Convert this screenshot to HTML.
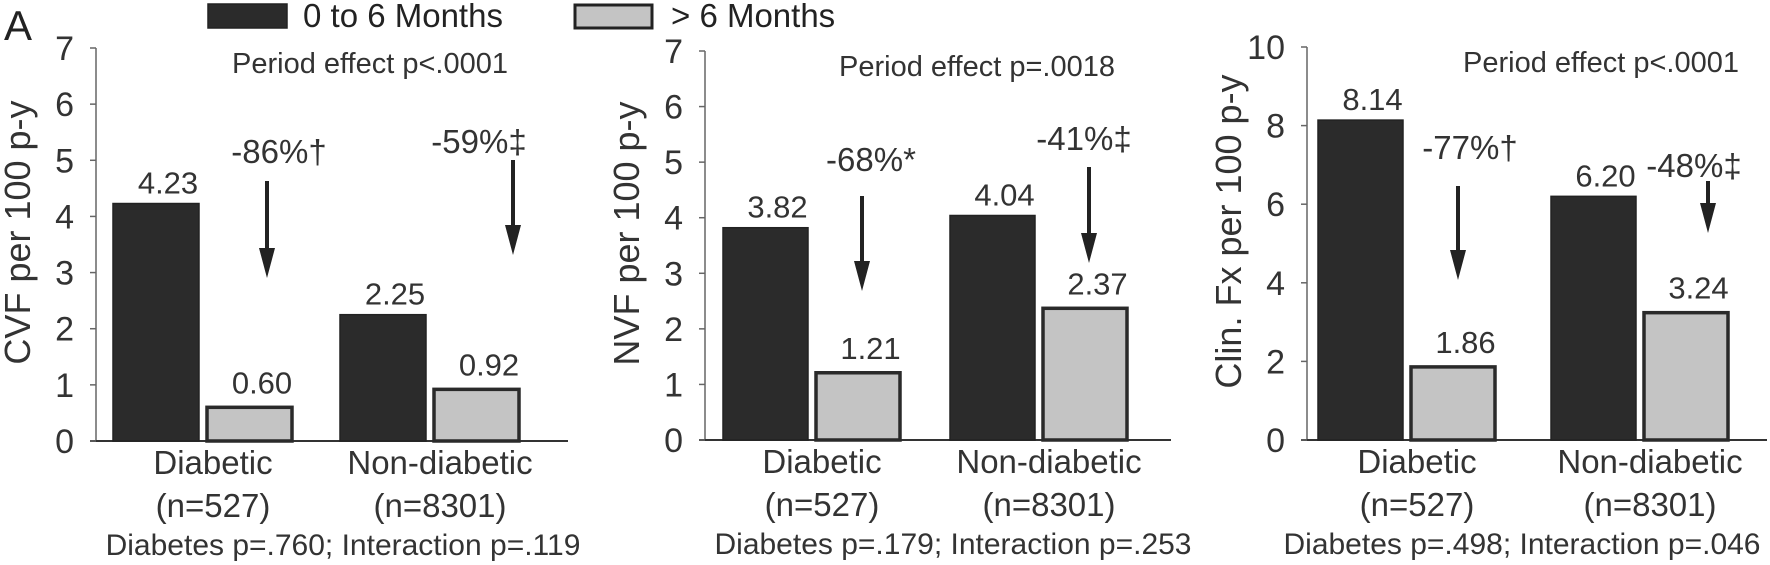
<!DOCTYPE html>
<html><head><meta charset="utf-8"><style>
body{margin:0;background:#fff}
svg{display:block;font-family:"Liberation Sans",Arial,sans-serif;fill:#222}
</style></head><body>
<svg id="chart" width="1770" height="565" viewBox="0 0 1770 565">
<text x="4" y="40" font-size="42">A</text>
<rect x="208" y="4" width="79" height="24" fill="#2b2b2b" stroke="#222" stroke-width="1.5"/>
<text x="303" y="27" font-size="33">0 to 6 Months</text>
<rect x="575" y="5" width="77" height="23" fill="#c4c4c4" stroke="#222" stroke-width="3"/>
<text x="671" y="27" font-size="33">&gt; 6 Months</text>
</svg>
<script>
const categories = ["Diabetic", "Non-diabetic"];
const catN = ["(n=527)", "(n=8301)"];
const cvfEarly = [4.23, 2.25];
const cvfLate = [0.60, 0.92];
const nvfEarly = [3.82, 4.04];
const nvfLate = [1.21, 2.37];
const fxEarly = [8.14, 6.20];
const fxLate = [1.86, 3.24];
const cvfTicks = [0,1,2,3,4,5,6,7];
const nvfTicks = [0,1,2,3,4,5,6,7];
const fxTicks = [0,2,4,6,8,10];
const cvfChange = ["-86%†", "-59%‡"];
const nvfChange = ["-68%*", "-41%‡"];
const fxChange = ["-77%†", "-48%‡"];

const NS = "http://www.w3.org/2000/svg";
const svg = document.getElementById("chart");
function mk(tag, attrs, text){
  const e = document.createElementNS(NS, tag);
  for (const k in attrs) e.setAttribute(k, attrs[k]);
  if (text !== undefined) e.textContent = text;
  svg.appendChild(e);
  return e;
}
function fmt(v){ return v.toFixed(2); }

function panel(cfg){
  const {id, ax, y0, yTop, yMax, axEnd, groups, bw, early, late, ticks, title, period, periodX, change, chg, foot, footX} = cfg;
  const ys = v => y0 - v / yMax * (y0 - yTop);
  let e;
  e = mk("line", {x1: ax, y1: yTop, x2: ax, y2: y0, stroke: "#666", "stroke-width": 1.5});
  
  
  e = mk("line", {x1: ax - 6, y1: y0, x2: axEnd, y2: y0, stroke: "#333", "stroke-width": 2});
  
  
  ticks.forEach(t => {
    const y = ys(t);
    e = mk("line", {x1: ax - 6, y1: y, x2: ax, y2: y, stroke: "#666", "stroke-width": 1.5});
    
    
    e = mk("text", {x: ax - 22, y: y + 12, "font-size": 34, "text-anchor": "end", fill: "#333"}, String(t));
    
    
  });
  const tx = ax - 66, ty = (y0 + yTop) / 2 - 12;
  e = mk("text", {x: tx, y: ty, "font-size": 36, "text-anchor": "middle", fill: "#333", transform: `rotate(-90 ${tx} ${ty})`}, title);
  
  
  e = mk("text", {x: periodX, y: yTop + 25, "font-size": 29, "text-anchor": "middle", fill: "#333"}, period);
  
  
  categories.forEach((c, i) => {
    const gx = groups[i];
    const hE = ys(early[i]), hL = ys(late[i]);
    e = mk("rect", {x: gx, y: hE, width: bw, height: y0 - hE, fill: "#2b2b2b", stroke: "#222", "stroke-width": 1.5});
    
    
    e = mk("rect", {x: gx + bw + 8, y: hL, width: bw - 1, height: y0 - hL, fill: "#c4c4c4", stroke: "#2a2a2a", "stroke-width": 3.5});
    
    
    e = mk("text", {x: gx + bw / 2 + 12, y: hE - 10, "font-size": 31, "text-anchor": "middle", fill: "#333"}, fmt(early[i]));
    
    
    e = mk("text", {x: gx + bw * 1.5 + 20, y: hL - 14, "font-size": 31, "text-anchor": "middle", fill: "#333"}, fmt(late[i]));
    
    
    const cx = gx + bw + 14;
    e = mk("text", {x: cx, y: y0 + 33, "font-size": 33, "text-anchor": "middle", fill: "#333"}, c);
    
    
    e = mk("text", {x: cx, y: y0 + 76, "font-size": 33, "text-anchor": "middle", fill: "#333"}, catN[i]);
    
    
    const a = chg[i];
    e = mk("text", {x: a.tx, y: a.ty, "font-size": 33, "text-anchor": "middle", fill: "#333"}, change[i]);
    
    
    e = mk("line", {x1: a.x, y1: a.y1, x2: a.x, y2: a.y2 - 12, stroke: "#222", "stroke-width": 4});
    
    
    e = mk("polygon", {points: `${a.x-8},${a.y2-30} ${a.x+8},${a.y2-30} ${a.x},${a.y2}`, fill: "#222"});
    
    
  });
  e = mk("text", {x: footX, y: y0 + 114, "font-size": 30, "text-anchor": "middle", fill: "#333"}, foot);
  
  
}

panel({id: "cvf", ax: 96, y0: 441, yTop: 48, yMax: 7, axEnd: 568, groups: [113, 340], bw: 86,
  early: cvfEarly, late: cvfLate, ticks: cvfTicks, title: "CVF per 100 p-y",
  period: "Period effect p<.0001", periodX: 370, change: cvfChange,
  chg: [{tx: 279, ty: 163, x: 267, y1: 181, y2: 278}, {tx: 479, ty: 153, x: 513, y1: 160, y2: 255}],
  foot: "Diabetes p=.760; Interaction p=.119", footX: 343});
panel({id: "nvf", ax: 705, y0: 440, yTop: 51, yMax: 7, axEnd: 1171, groups: [723, 950], bw: 85,
  early: nvfEarly, late: nvfLate, ticks: nvfTicks, title: "NVF per 100 p-y",
  period: "Period effect p=.0018", periodX: 977, change: nvfChange,
  chg: [{tx: 871, ty: 171, x: 862, y1: 196, y2: 291}, {tx: 1084, ty: 150, x: 1089, y1: 167, y2: 263}],
  foot: "Diabetes p=.179; Interaction p=.253", footX: 953});
panel({id: "fx", ax: 1307, y0: 440, yTop: 47, yMax: 10, axEnd: 1767, groups: [1318, 1551], bw: 85,
  early: fxEarly, late: fxLate, ticks: fxTicks, title: "Clin. Fx per 100 p-y",
  period: "Period effect p<.0001", periodX: 1601, change: fxChange,
  chg: [{tx: 1470, ty: 159, x: 1458, y1: 186, y2: 280}, {tx: 1694, ty: 177, x: 1708, y1: 181, y2: 233}],
  foot: "Diabetes p=.498; Interaction p=.046", footX: 1522});
</script>
</body></html>
